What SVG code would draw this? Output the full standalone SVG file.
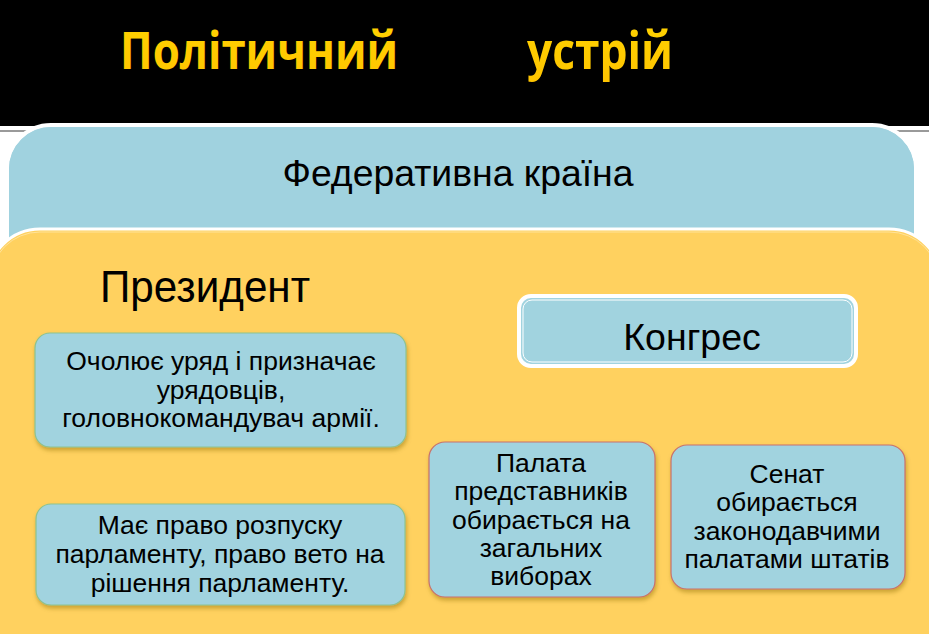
<svg xmlns="http://www.w3.org/2000/svg" width="929" height="634" viewBox="0 0 929 634">
<defs>
<style>
.t{font-family:"Liberation Sans",Arial,sans-serif;fill:#000;text-anchor:middle}
.s24{font-size:26.5px}
.box{fill:#A1D3DF}
.g{stroke:#8DC38F;stroke-width:1.2}
.r{stroke:#C9716C;stroke-width:1.2}
</style>
<filter id="sh" x="-10%" y="-10%" width="120%" height="130%">
<feDropShadow dx="1" dy="3" stdDeviation="2" flood-color="#8a6a10" flood-opacity="0.45"/>
</filter>
<linearGradient id="tg" x1="0" y1="0" x2="0" y2="1">
<stop offset="0" stop-color="#FFD400"/>
<stop offset="1" stop-color="#FFC400"/>
</linearGradient>
</defs>
<rect x="0" y="0" width="929" height="634" fill="#fff"/>
<rect x="0" y="0" width="929" height="126" fill="#000"/>
<line x1="0" y1="131" x2="929" y2="131" stroke="#9a9a9a" stroke-width="2"/>
<g id="title">
<text x="120" y="69" font-family="'Open Sans','Noto Sans',sans-serif" font-weight="bold" font-size="52" fill="url(#tg)" textLength="278" lengthAdjust="spacingAndGlyphs">Політичний</text>
<text x="527" y="69" font-family="'Open Sans','Noto Sans',sans-serif" font-weight="bold" font-size="52" fill="url(#tg)" textLength="146" lengthAdjust="spacingAndGlyphs">устрій</text>
</g>
<g id="federal">
<rect x="7" y="125" width="909" height="160" rx="44" fill="#A0D2DF" stroke="#fff" stroke-width="4"/>
<rect x="9.5" y="127.5" width="904" height="155" rx="42" fill="none" stroke="#A0D2DF" stroke-width="1"/>
<text class="t" x="458" y="186" font-size="36" textLength="351" lengthAdjust="spacingAndGlyphs">Федеративна країна</text>
</g>
<g id="yellow-panel">
<rect x="-12" y="229" width="953" height="450" rx="52" fill="#FFD15F" stroke="#fff" stroke-width="3"/>
<rect x="-10" y="232" width="949" height="450" rx="50" fill="none" stroke="#FFE39A" stroke-width="1"/>
</g>
<g id="president">
<text class="t" x="205" y="302" font-size="44" textLength="210" lengthAdjust="spacingAndGlyphs">Президент</text>
</g>
<g id="p1">
<rect class="box g" x="35" y="333" width="371" height="114" rx="15" filter="url(#sh)"/>
<text class="t s24" x="221" y="370">Очолює уряд і призначає</text>
<text class="t s24" x="221" y="399">урядовців,</text>
<text class="t s24" x="221" y="427">головнокомандувач армії.</text>
</g>
<g id="p2">
<rect class="box g" x="36" y="504" width="369" height="101" rx="15" filter="url(#sh)"/>
<text class="t s24" x="220" y="534">Має право розпуску</text>
<text class="t s24" x="220" y="563">парламенту, право вето на</text>
<text class="t s24" x="220" y="592">рішення парламенту.</text>
</g>
<g id="congress">
<rect x="519" y="296" width="337" height="70" rx="12" fill="#A1D3DF" stroke="#fff" stroke-width="4"/>
<rect x="523" y="300" width="329" height="62" rx="9" fill="none" stroke="#fff" stroke-width="1"/>
<text class="t" x="692" y="350" font-size="37.5">Конгрес</text>
</g>
<g id="house">
<rect class="box r" x="429" y="442" width="226" height="155" rx="16" filter="url(#sh)"/>
<text class="t s24" x="541" y="472">Палата</text>
<text class="t s24" x="541" y="500">представників</text>
<text class="t s24" x="541" y="529">обирається на</text>
<text class="t s24" x="541" y="557">загальних</text>
<text class="t s24" x="541" y="585">виборах</text>
</g>
<g id="senate">
<rect class="box r" x="671" y="445" width="234" height="144" rx="16" filter="url(#sh)"/>
<text class="t s24" x="787" y="483">Сенат</text>
<text class="t s24" x="787" y="511">обирається</text>
<text class="t s24" x="787" y="540">законодавчими</text>
<text class="t s24" x="787" y="568">палатами штатів</text>
</g>
<g id="connectors"></g>
</svg>
